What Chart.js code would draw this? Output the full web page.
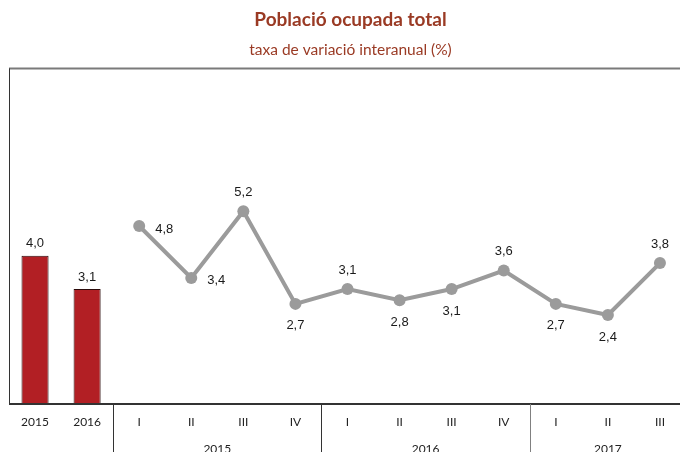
<!DOCTYPE html>
<html>
<head>
<meta charset="utf-8">
<script src="https://cdn.jsdelivr.net/npm/chart.js@4"></script>
<style>
  html, body { margin: 0; padding: 0; background: #fff; overflow: hidden; }
  #wrap { width: 680px; height: 452px; overflow: hidden; }
</style>
</head>
<body>
<div id="wrap"><canvas id="chart" width="692" height="452"></canvas></div>
<script>
// categories (first row) and year groups (second row)
const categories = ['2015', '2016', 'I', 'II', 'III', 'IV', 'I', 'II', 'III', 'IV', 'I', 'II', 'III'];
const groupLabels = ['2015', '2016', '2017'];
const groupStart = [2, 6, 10];

// annual values (bars) and quarterly values (line)
const annualValues = [4.0, 3.1, null, null, null, null, null, null, null, null, null, null, null];
const quarterValues = [null, null, 4.8, 3.4, 5.2, 2.7, 3.1, 2.8, 3.1, 3.6, 2.7, 2.4, 3.8];
// where each line label sits
const labelPos = [null, null, 'right', 'right', 'top', 'bottom', 'top', 'bottom', 'bottom', 'top', 'bottom', 'bottom', 'top'];

function fmt(v) {
    return v.toFixed(1).replace('.', ',');
}

const framePlugin = {
    id: 'frame',
    afterDraw(chart) {
        const ctx = chart.ctx;
        const area = chart.chartArea;
        const x = chart.scales.x;
        const H = chart.height;
        ctx.save();

        // top line
        ctx.strokeStyle = '#7a7a7a';
        ctx.lineWidth = 2;
        ctx.beginPath();
        ctx.moveTo(area.left, area.top);
        ctx.lineTo(chart.width, area.top);
        ctx.stroke();

        // left line
        ctx.strokeStyle = '#333';
        ctx.lineWidth = 1;
        ctx.beginPath();
        ctx.moveTo(area.left + 0.5, area.top);
        ctx.lineTo(area.left + 0.5, area.bottom);
        ctx.stroke();

        // axis line
        ctx.strokeStyle = '#333';
        ctx.lineWidth = 2;
        ctx.beginPath();
        ctx.moveTo(area.left, area.bottom);
        ctx.lineTo(chart.width, area.bottom);
        ctx.stroke();

        const half = (x.getPixelForValue(1) - x.getPixelForValue(0)) / 2;

        // separators between groups
        groupStart.forEach((s, i) => {
            const px = Math.round(x.getPixelForValue(s) - half) + 0.5;
            ctx.strokeStyle = i === 2 ? '#808080' : '#333';
            ctx.lineWidth = 1;
            ctx.beginPath();
            ctx.moveTo(px, area.bottom);
            ctx.lineTo(px, H);
            ctx.stroke();
        });

        // year group labels
        ctx.font = '12px Lato';
        ctx.fillStyle = '#222';
        ctx.textAlign = 'center';
        ctx.textBaseline = 'middle';
        groupLabels.forEach((lab, i) => {
            const start = groupStart[i];
            const end = i + 1 < groupStart.length ? groupStart[i + 1] - 1 : categories.length - 1;
            const cx = (x.getPixelForValue(start) + x.getPixelForValue(end)) / 2;
            ctx.fillText(lab, cx, area.bottom + 45);
        });

        // data labels
        ctx.font = '13px "Liberation Sans"';
        ctx.fillStyle = '#1a1a1a';
        const barMeta = chart.getDatasetMeta(0);
        annualValues.forEach((v, i) => {
            if (v === null) return;
            const el = barMeta.data[i];
            ctx.textAlign = 'center';
            ctx.fillText(fmt(v), el.x, el.y - 12);
        });
        const lineMeta = chart.getDatasetMeta(1);
        quarterValues.forEach((v, i) => {
            if (v === null) return;
            const el = lineMeta.data[i];
            const pos = labelPos[i];
            if (pos === 'right') {
                ctx.textAlign = 'left';
                ctx.fillText(fmt(v), el.x + 16, el.y + 3);
            } else if (pos === 'top') {
                ctx.textAlign = 'center';
                ctx.fillText(fmt(v), el.x, el.y - 19);
            } else {
                ctx.textAlign = 'center';
                ctx.fillText(fmt(v), el.x, el.y + 22);
            }
        });
        ctx.restore();
    }
};

const ctx = document.getElementById('chart').getContext('2d');
new Chart(ctx, {
    type: 'bar',
    data: {
        labels: categories,
        datasets: [{
            type: 'bar',
            data: annualValues,
            backgroundColor: '#b21f24',
            borderColor: '#2a0a0a',
            borderWidth: 1,
            barPercentage: 0.52,
            categoryPercentage: 1,
            order: 2
        }, {
            type: 'line',
            data: quarterValues,
            borderColor: '#9b9b9b',
            backgroundColor: '#9b9b9b',
            borderWidth: 4,
            pointRadius: 6,
            pointHoverRadius: 6,
            pointBorderWidth: 0,
            tension: 0,
            order: 1
        }]
    },
    options: {
        responsive: false,
        animation: false,
        layout: { padding: { left: 9, right: 0, top: 0, bottom: 0 } },
        plugins: {
            legend: { display: false },
            tooltip: { enabled: false },
            title: {
                display: true,
                text: 'Població ocupada total',
                color: '#9a3a24',
                font: { family: 'Lato', size: 19, weight: 'bold', lineHeight: 1.2 },
                padding: { top: 8, bottom: 0 }
            },
            subtitle: {
                display: true,
                text: 'taxa de variació interanual (%)',
                color: '#9a3a24',
                font: { family: 'Lato', size: 15.5, lineHeight: 1.2 },
                padding: { top: 10, bottom: 9 }
            }
        },
        scales: {
            x: {
                grid: { display: false, drawTicks: false },
                border: { display: false },
                ticks: {
                    color: '#222',
                    font: { family: 'Lato', size: 12 },
                    padding: 11,
                    maxRotation: 0,
                    autoSkip: false
                },
                afterFit(scale) { scale.height = 48; }
            },
            y: {
                display: false,
                min: 0,
                max: 9.05
            }
        }
    },
    plugins: [framePlugin]
});
</script>
</body>
</html>
